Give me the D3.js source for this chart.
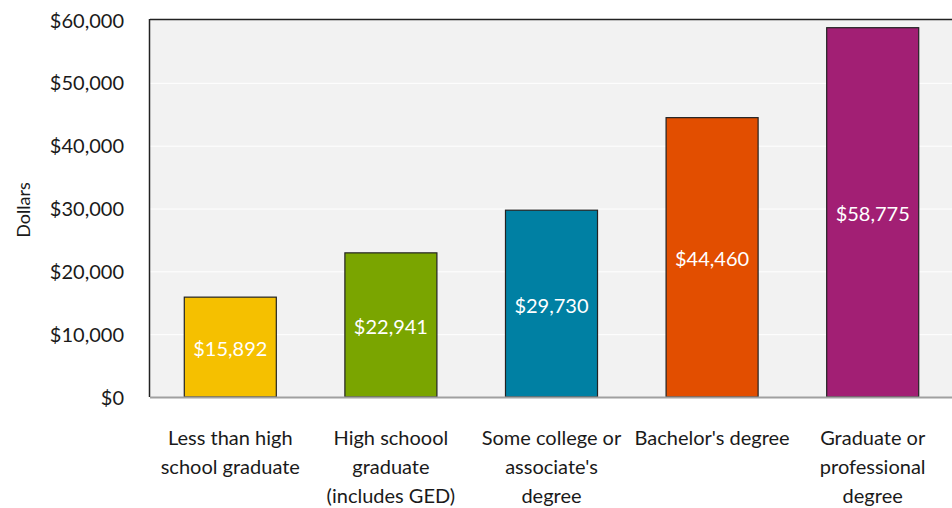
<!DOCTYPE html>
<html>
<head>
<meta charset="utf-8">
<script src="https://cdn.jsdelivr.net/npm/d3@7"></script>
<style>
  body { margin: 0; background: #fff; }
  svg text { font-family: Lato, "Open Sans", sans-serif; fill: #1a1a1a; }
</style>
</head>
<body>
<svg id="chart" width="952" height="508"></svg>
<script>
// median earnings by education level
const categories = [
  ['Less than high', 'school graduate'],
  ['High schoool', 'graduate', '(includes GED)'],
  ['Some college or', "associate's", 'degree'],
  ["Bachelor's degree"],
  ['Graduate or', 'professional', 'degree']
];
const values = [15892, 22941, 29730, 44460, 58775];
const colors = ['#f5c000', '#7aa500', '#0080a3', '#e24e00', '#a21f74'];
const yTicks = [0, 10000, 20000, 30000, 40000, 50000, 60000];

const svg = d3.select('#chart');
const plotL = 150, plotR = 953, plotT = 20, plotB = 397;

const x = d3.scaleBand()
  .domain(d3.range(values.length))
  .range([plotL, plotR])
  .paddingInner(0.427)
  .paddingOuter(0.2135);

const y = d3.scaleLinear().domain([0, 60000]).range([plotB, plotT]);
const fmt = d3.format('$,');

// plot background
svg.append('rect')
  .attr('x', plotL).attr('y', plotT)
  .attr('width', plotR - plotL).attr('height', plotB - plotT)
  .attr('fill', '#f2f2f2');

// white gridlines
svg.selectAll('.grid').data(yTicks.slice(1, -1)).enter().append('line')
  .attr('x1', plotL).attr('x2', plotR)
  .attr('y1', d => y(d) + 0.5).attr('y2', d => y(d) + 0.5)
  .attr('stroke', '#fff').attr('stroke-width', 1);

// frame lines: top + left dark, bottom grey
svg.append('line').attr('x1', plotL).attr('x2', plotR).attr('y1', plotT - 0.5).attr('y2', plotT - 0.5)
  .attr('stroke', '#222').attr('stroke-width', 1.5);
svg.append('line').attr('x1', plotL - 0.5).attr('x2', plotL - 0.5).attr('y1', plotT - 1).attr('y2', plotB)
  .attr('stroke', '#222').attr('stroke-width', 1.5);

// bars
svg.selectAll('.bar').data(values).enter().append('rect')
  .attr('x', (d, i) => x(i))
  .attr('y', d => y(d))
  .attr('width', x.bandwidth())
  .attr('height', d => plotB - y(d))
  .attr('fill', (d, i) => colors[i])
  .attr('stroke', '#222').attr('stroke-width', 1.2);

svg.append('line').attr('x1', plotL).attr('x2', plotR).attr('y1', plotB + 0.5).attr('y2', plotB + 0.5)
  .attr('stroke', '#a0a0a0').attr('stroke-width', 2);

// value labels
svg.selectAll('.val').data(values).enter().append('text')
  .attr('x', (d, i) => x(i) + x.bandwidth() / 2)
  .attr('y', d => (y(d) + plotB) / 2)
  .attr('dy', '0.45em')
  .attr('text-anchor', 'middle')
  .style('fill', '#fff')
  .style('font-size', '20px')
  .text(d => fmt(d));

// y tick labels
svg.selectAll('.ytick').data(yTicks).enter().append('text')
  .attr('x', 124)
  .attr('y', d => y(d))
  .attr('dy', '0.38em')
  .attr('text-anchor', 'end')
  .style('font-size', '20px')
  .text(d => fmt(d));

// axis title
svg.append('text')
  .attr('transform', 'translate(30,210) rotate(-90)')
  .attr('text-anchor', 'middle')
  .style('font-size', '18px')
  .text('Dollars');

// category labels
const cat = svg.selectAll('.cat').data(categories).enter().append('text')
  .attr('text-anchor', 'middle')
  .style('font-size', '20px');
cat.selectAll('tspan').data((d, i) => d.map(s => ({ s, i }))).enter().append('tspan')
  .attr('x', d => x(d.i) + x.bandwidth() / 2)
  .attr('y', (d, j) => 445 + j * 29)
  .text(d => d.s);
</script>
</body>
</html>
